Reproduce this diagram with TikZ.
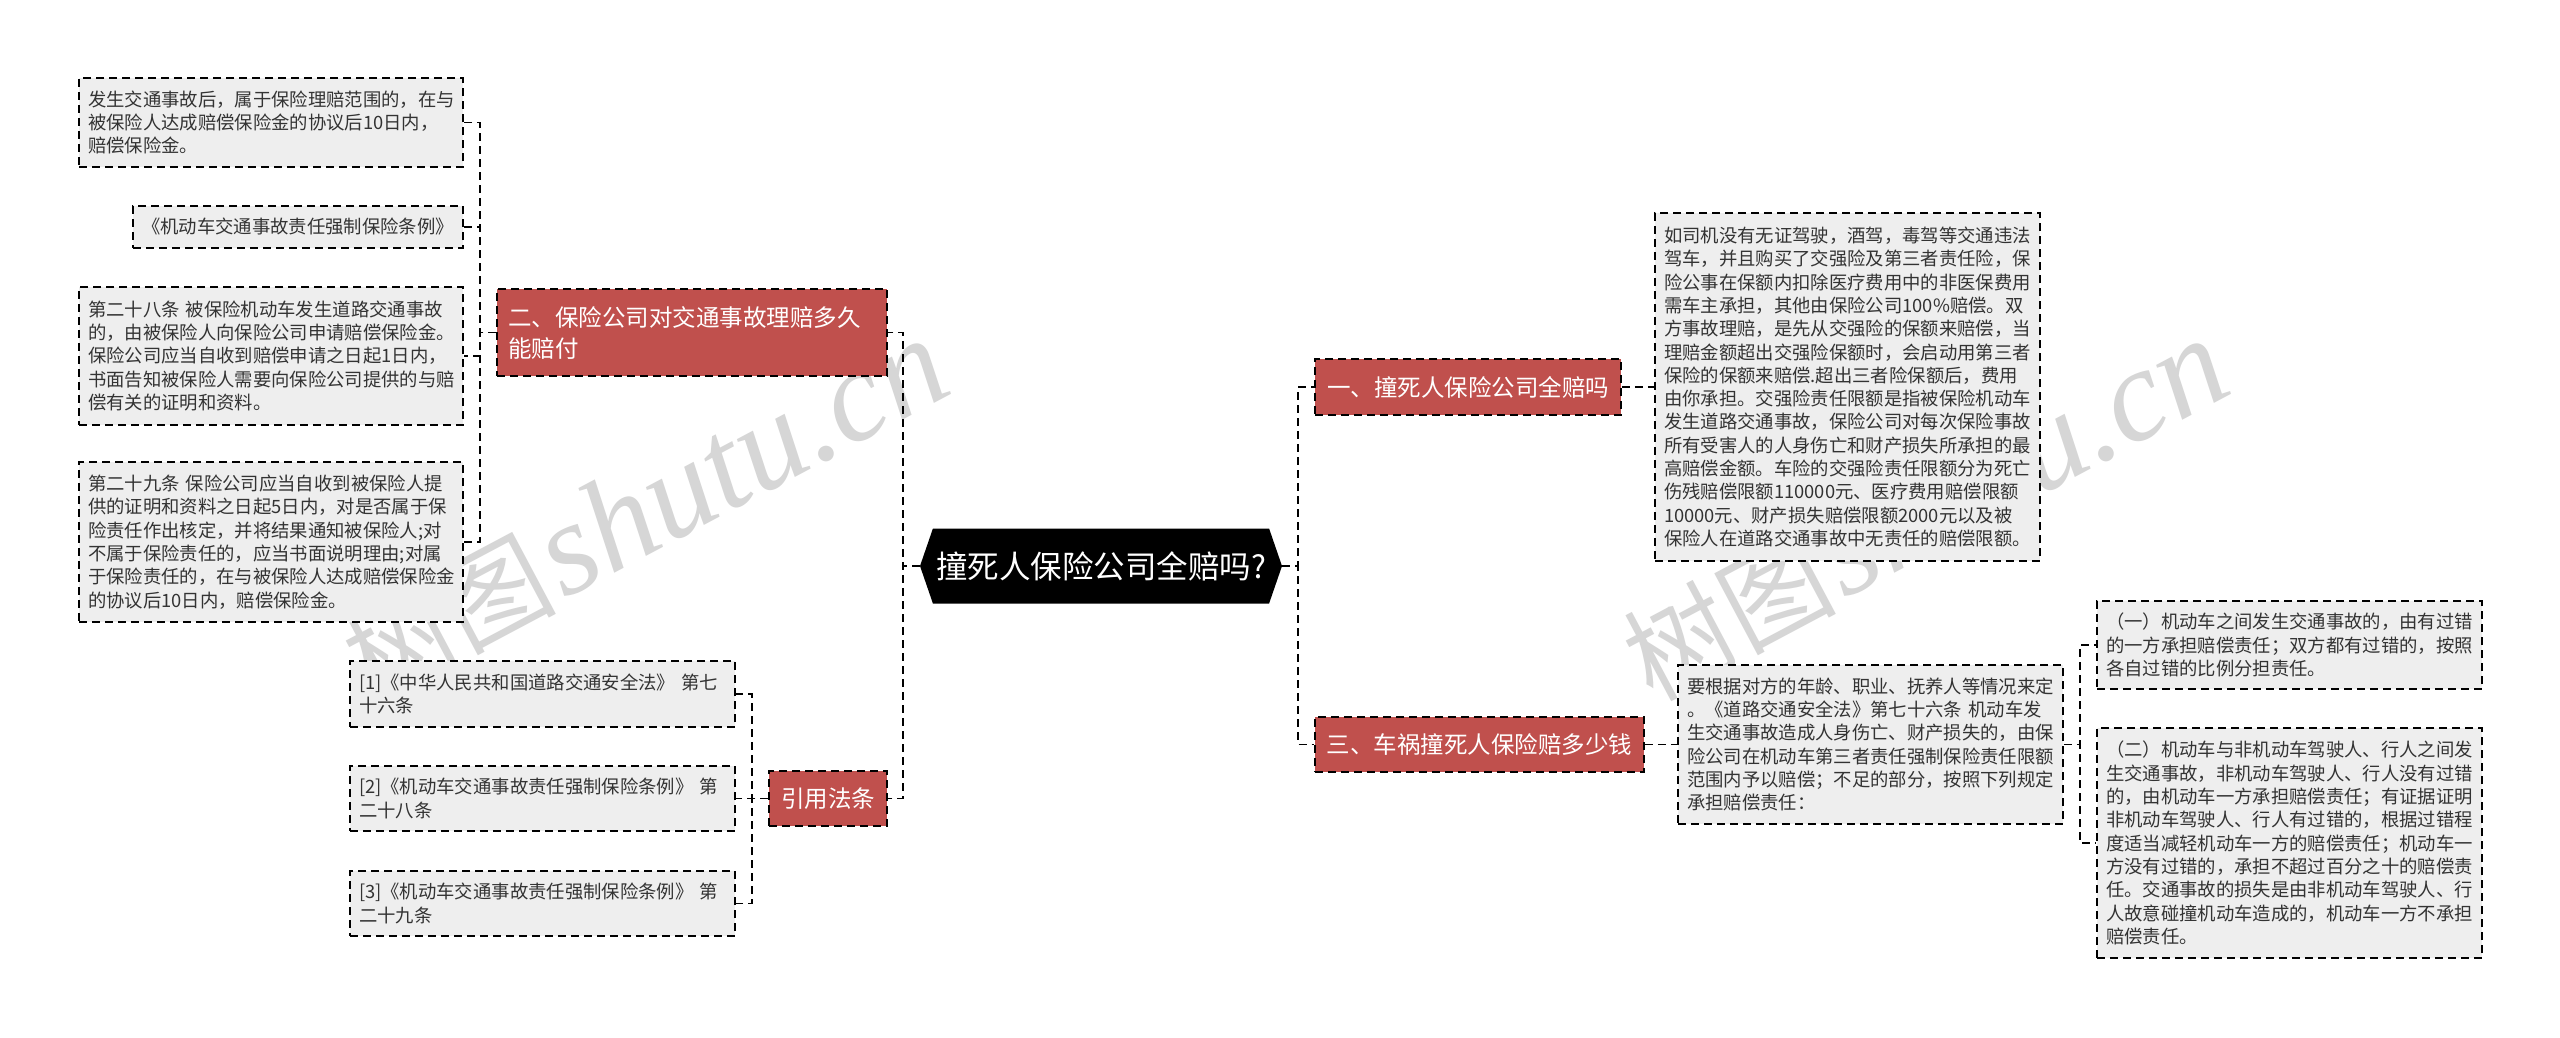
\documentclass[tikz,border=0pt]{standalone}
\usepackage{fontspec}
\usepackage{xcolor}
\usetikzlibrary{shapes.symbols}
\setmainfont{Noto Sans CJK SC}
\newfontfamily\markfont{Liberation Serif}
\definecolor{rootcolor}{HTML}{000000}
\definecolor{sectioncolor}{HTML}{C0504D}
\definecolor{leafcolor}{HTML}{EEEEEE}
\definecolor{leaftext}{HTML}{333333}
\definecolor{markcolor}{HTML}{D6D6D6}
\newcommand{\marktext}{{\fontsize{106}{130}\selectfont 树图}\hspace{6pt}{\markfont\itshape shutu.cn}}
\tikzstyle{link} = [
    draw=black,
    line width=1.8pt,
    dash pattern=on 8pt off 5pt
    ]
\tikzstyle{rootbox} = [
    signal,
    signal to=west and east,
    signal pointer angle=142,
    fill=rootcolor,
    text=white,
    font=\fontsize{31.5}{36}\selectfont,
    inner sep=0pt,
    minimum width=362pt,
    minimum height=75pt
    ]
\tikzstyle{sectionbox} = [
    link,
    fill=sectioncolor,
    text=white,
    rectangle,
    align=left,
    font=\fontsize{23.5}{31}\selectfont,
    inner xsep=11pt,
    inner ysep=0pt
    ]
\tikzstyle{leafbox} = [
    link,
    fill=leafcolor,
    text=leaftext,
    rectangle,
    align=left,
    font=\fontsize{18.35}{23.3}\selectfont,
    inner xsep=9pt,
    inner ysep=0pt
    ]
\tikzstyle{watermark} = [
    text=markcolor,
    rotate=28,
    font=\fontsize{132}{136}\selectfont
    ]

\begin{document}
\begin{tikzpicture}[x=1pt,y=-1pt]
\useasboundingbox (0,0) rectangle (2560,1037);
\fill [white] (0,0) rectangle (2560,1037);

% watermarks sit under everything
\node [watermark] (markleft) at (645,510) {\marktext};
\node [watermark] (markright) at (1925,510) {\marktext};

\node [rootbox] (root) at (1101,566) {撞死人保险公司全赔吗?};

% left side
\node [sectionbox, text width=368pt, minimum height=87pt] (sectwo) at (692,332.5) {%
二、保险公司对交通事故理赔多久\\
能赔付};
\node [sectionbox, minimum width=118pt, minimum height=55pt, align=center] (secrefs) at (828,798.5) {引用法条};

\node [leafbox, text width=366pt, minimum height=89pt] (payone) at (271,122.5) {%
发生交通事故后，属于保险理赔范围的，在与\\
被保险人达成赔偿保险金的协议后10日内，\\
赔偿保险金。};
\node [leafbox, minimum width=330pt, minimum height=42pt, align=center] (paytwo) at (298,227) {%
《机动车交通事故责任强制保险条例》};
\node [leafbox, text width=366pt, minimum height=138pt] (paythree) at (271,356) {%
第二十八条 被保险机动车发生道路交通事故\\
的，由被保险人向保险公司申请赔偿保险金。\\
保险公司应当自收到赔偿申请之日起1日内，\\
书面告知被保险人需要向保险公司提供的与赔\\
偿有关的证明和资料。};
\node [leafbox, text width=366pt, minimum height=160pt] (payfour) at (271,542) {%
第二十九条 保险公司应当自收到被保险人提\\
供的证明和资料之日起5日内，对是否属于保\\
险责任作出核定，并将结果通知被保险人;对\\
不属于保险责任的，应当书面说明理由;对属\\
于保险责任的，在与被保险人达成赔偿保险金\\
的协议后10日内，赔偿保险金。};

\node [leafbox, text width=367pt, minimum height=66pt] (refone) at (542.5,694) {%
[1]《中华人民共和国道路交通安全法》 第七\\
十六条};
\node [leafbox, text width=367pt, minimum height=65pt] (reftwo) at (542.5,798.5) {%
[2]《机动车交通事故责任强制保险条例》 第\\
二十八条};
\node [leafbox, text width=367pt, minimum height=65pt] (refthree) at (542.5,903.5) {%
[3]《机动车交通事故责任强制保险条例》 第\\
二十九条};

% right side
\node [sectionbox, minimum width=306pt, minimum height=56pt, align=center] (secone) at (1468,387) {一、撞死人保险公司全赔吗};
\node [sectionbox, minimum width=329pt, minimum height=55pt, align=center] (secthree) at (1479.5,744.5) {三、车祸撞死人保险赔多少钱};

\node [leafbox, text width=367pt, minimum height=348pt] (answer) at (1847.5,387) {%
如司机没有无证驾驶，酒驾，毒驾等交通违法\\
驾车，并且购买了交强险及第三者责任险，保\\
险公事在保额内扣除医疗费用中的非医保费用\\
需车主承担，其他由保险公司100\%赔偿。双\\
方事故理赔，是先从交强险的保额来赔偿，当\\
理赔金额超出交强险保额时，会启动用第三者\\
保险的保额来赔偿.超出三者险保额后，费用\\
由你承担。交强险责任限额是指被保险机动车\\
发生道路交通事故，保险公司对每次保险事故\\
所有受害人的人身伤亡和财产损失所承担的最\\
高赔偿金额。车险的交强险责任限额分为死亡\\
伤残赔偿限额110000元、医疗费用赔偿限额\\
10000元、财产损失赔偿限额2000元以及被\\
保险人在道路交通事故中无责任的赔偿限额。};
\node [leafbox, text width=367pt, minimum height=159pt] (amount) at (1870.5,744.5) {%
要根据对方的年龄、职业、抚养人等情况来定\\
。《道路交通安全法》第七十六条 机动车发\\
生交通事故造成人身伤亡、财产损失的，由保\\
险公司在机动车第三者责任强制保险责任限额\\
范围内予以赔偿；不足的部分，按照下列规定\\
承担赔偿责任：};
\node [leafbox, text width=367pt, minimum height=88pt] (caseone) at (2289.5,645) {%
（一）机动车之间发生交通事故的，由有过错\\
的一方承担赔偿责任；双方都有过错的，按照\\
各自过错的比例分担责任。};
\node [leafbox, text width=367pt, minimum height=230pt] (casetwo) at (2289.5,843) {%
（二）机动车与非机动车驾驶人、行人之间发\\
生交通事故，非机动车驾驶人、行人没有过错\\
的，由机动车一方承担赔偿责任；有证据证明\\
非机动车驾驶人、行人有过错的，根据过错程\\
度适当减轻机动车一方的赔偿责任；机动车一\\
方没有过错的，承担不超过百分之十的赔偿责\\
任。交通事故的损失是由非机动车驾驶人、行\\
人故意碰撞机动车造成的，机动车一方不承担\\
赔偿责任。};

\coordinate (spineleft) at (903,566);
\coordinate (spineright) at (1298,566);
\coordinate (spinetwo) at (480,332.5);
\coordinate (spinerefs) at (752,798.5);
\coordinate (spinecase) at (2080,744.5);

\foreach \child in {sectwo,secrefs}
    \draw [link] (root.west) -- (spineleft) |- (\child.east);
\foreach \child in {secone,secthree}
    \draw [link] (root.east) -- (spineright) |- (\child.west);
\foreach \child in {payone,paytwo,paythree,payfour}
    \draw [link] (sectwo.west) -- (spinetwo) |- (\child.east);
\foreach \child in {refone,reftwo,refthree}
    \draw [link] (secrefs.west) -- (spinerefs) |- (\child.east);
\foreach \child in {caseone,casetwo}
    \draw [link] (amount.east) -- (spinecase) |- (\child.west);
\draw [link] (secone.east) -- (answer.west);
\draw [link] (secthree.east) -- (amount.west);
\end{tikzpicture}
\end{document}
